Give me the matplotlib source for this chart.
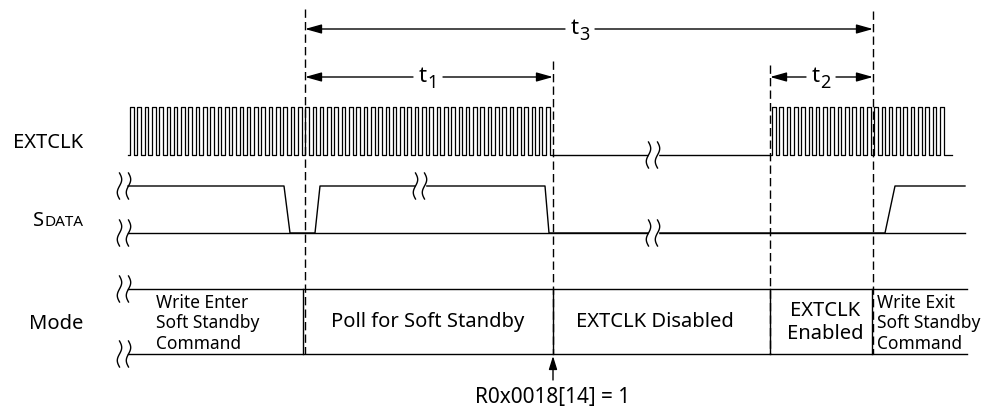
import numpy as np
import matplotlib
matplotlib.use('Agg')
import matplotlib.pyplot as plt

plt.rcParams['font.family'] = ['Noto Sans', 'DejaVu Sans']

# временная шкала схемы (в пикселях исходной картинки)
marks = [305, 553, 770, 873]          # пунктирные отметки
mark_tops = [10, 62, 66, 12]

# интервалы t1, t2, t3: (начало, конец, уровень, подпись, центр подписи)
spans = [(305, 873, 30, '3', 580),
         (305, 553, 78, '1', 428),
         (770, 873, 78, '2', 821)]

# EXTCLK
clk_period = 7.3
clk_runs = [(128, 553), (770, 952)]
clk_break = 653
clk_hi, clk_lo = 108, 156

# SDATA
sdata_t = [128, 284, 290, 315, 320, 545, 549, 885, 895, 965]
sdata_v = [1, 1, 0, 0, 1, 1, 0, 0, 1, 1]
sdata_hi, sdata_lo = 187, 234
sdata_breaks = [(420, 187), (653, 234)]

# Mode
mode_bounds = [128, 303, 553, 770, 872, 967]
mode_labels = ['Write Enter\nSoft Standby\nCommand', 'Poll for Soft Standby',
               'EXTCLK Disabled', 'EXTCLK\nEnabled',
               'Write Exit\nSoft Standby\nCommand']
mode_label_x = [156, 428, 655, 825, 877]
mode_top, mode_bot = 290, 355

row_names = ['EXTCLK', 'SDATA', 'Mode']
row_y = [143, 220, 324]

reg_note = 'R0x0018[14] = 1'


def brk(ax, x, y, h=13, gap=9, cover=False):
    # значок разрыва линии
    if cover:
        ax.fill_between([x - gap / 2, x + gap / 2], y - 3, y + 3, color='white', zorder=3)
    s = np.linspace(-1, 1, 40)
    for dx in (-gap / 2, gap / 2):
        ax.plot(x + dx - 2.2 * np.sin(np.pi * s), y + h * s, color='black', lw=1, zorder=4)


fig = plt.figure(figsize=(9.9, 4.14), dpi=100)
ax = fig.add_axes([0, 0, 1, 1])
ax.set_xlim(0, 990)
ax.set_ylim(414, 0)
ax.axis('off')

# пунктирные вертикали
for x, top in zip(marks, mark_tops):
    ax.plot([x, x], [top, mode_bot], color='black', lw=1, linestyle=(0, (6, 3)))

# стрелки интервалов
for a, b, y, sub, c in spans:
    for end, start in ((a, c - 15), (b, c + 15)):
        ax.annotate('', xy=(end, y), xytext=(start, y),
                    arrowprops=dict(arrowstyle='-|>,head_length=1.0,head_width=0.28',
                                    color='black', lw=1, shrinkA=0, shrinkB=0,
                                    mutation_scale=10))
    ax.text(c - 1, y + 4, 't', fontsize=16, ha='right', va='baseline')
    ax.text(c - 1, y + 10, sub, fontsize=13, ha='left', va='baseline')

# EXTCLK
for a, b in clk_runs:
    n = int((b - a) / clk_period)
    xs, ys = [a], [clk_lo]
    for k in range(n):
        x0 = a + 2 + k * clk_period
        xs += [x0, x0, x0 + clk_period / 2, x0 + clk_period / 2]
        ys += [clk_lo, clk_hi, clk_hi, clk_lo]
    xs.append(b)
    ys.append(clk_lo)
    ax.plot(xs, ys, color='black', lw=0.9)
ax.plot([clk_runs[0][1], clk_runs[1][0]], [clk_lo, clk_lo], color='black', lw=1)
brk(ax, clk_break, clk_lo, cover=True)

# SDATA
ax.plot(sdata_t, [sdata_hi if v else sdata_lo for v in sdata_v], color='black', lw=1)
ax.plot([sdata_t[0], sdata_t[-1]], [sdata_lo, sdata_lo], color='black', lw=1)
brk(ax, sdata_t[0] - 4, sdata_hi)
brk(ax, sdata_t[0] - 4, sdata_lo)
for x, y in sdata_breaks:
    brk(ax, x, y, cover=True)

# Mode
for y in (mode_top, mode_bot):
    ax.plot([mode_bounds[0], mode_bounds[-1]], [y, y], color='black', lw=1)
    brk(ax, mode_bounds[0] - 4, y)
for x in mode_bounds[1:-1]:
    ax.plot([x, x], [mode_top, mode_bot], color='black', lw=1)
mid = (mode_top + mode_bot) / 2
for lab, x0 in zip(mode_labels, mode_label_x):
    if lab.count('\n') == 2:
        ax.text(x0, mid + 1, lab, fontsize=12.5, ha='left', va='center', linespacing=1.15)
    else:
        ax.text(x0, mid, lab, fontsize=14.5, ha='center', va='center', linespacing=1.2)

# подписи строк
ax.text(83, row_y[0], row_names[0], fontsize=14.5, ha='right', va='center')
ax.text(83, row_y[2], row_names[2], fontsize=14.5, ha='right', va='center')
t_data = ax.text(83, row_y[1] + 6, row_names[1][1:], fontsize=11, ha='right', va='baseline')
fig.canvas.draw()
w = t_data.get_window_extent().width
ax.text(83 - w, row_y[1] + 6, row_names[1][0], fontsize=14.5, ha='right', va='baseline')

# примечание внизу
ax.annotate('', xy=(marks[1], mode_bot + 2), xytext=(marks[1], 381),
            arrowprops=dict(arrowstyle='-|>,head_length=0.8,head_width=0.25',
                            color='black', lw=1, shrinkA=0, shrinkB=0, mutation_scale=10))
ax.text(marks[1], 398, reg_note, fontsize=15, ha='center', va='center')

fig.savefig('out.png', dpi=100)
